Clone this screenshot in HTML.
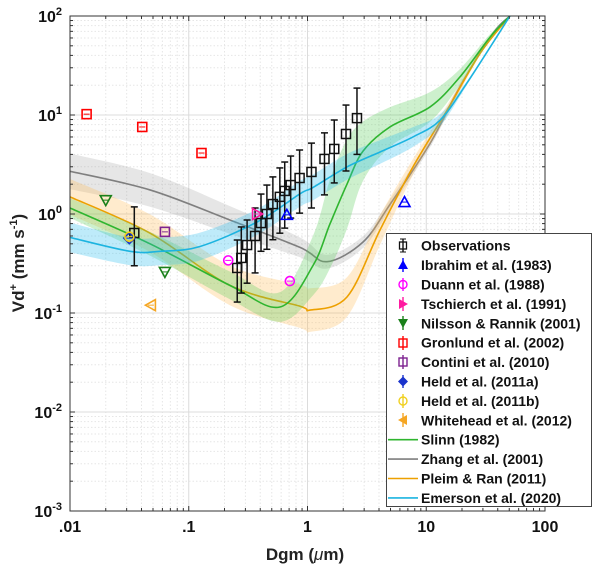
<!DOCTYPE html>
<html><head><meta charset="utf-8"><style>
body{margin:0;background:#fff}
svg{display:block;font-family:"Liberation Sans",Arial,sans-serif}
</style></head><body>
<svg id="chart" width="600" height="570" viewBox="0 0 600 570"></svg>
<script>
// ---- data ----
const slinnX = [0.01,0.0472,0.222,0.586,1.11,1.55,2.15,2.93,4.95,10.8,19.2,34.4,50.7];
const slinnY = [1.15,0.5,0.19,0.115,0.3,0.8,2.0,4.3,7.57,12.1,24.2,61,100];
const slinnBand = [0.1,0.12,0.14,0.15,0.3,0.45,0.45,0.3,0.2,0.15,0.08,0.03,0];
const zhangX = [0.01,0.0472,0.222,0.865,1.46,2.93,4.95,10.8,19.2,36.5,50.7];
const zhangY = [2.7,1.75,0.87,0.46,0.33,0.52,1.25,5.2,19.2,67,100];
const zhangBand = [0.18,0.17,0.14,0.1,0.07,0.06,0.05,0.04,0.03,0.01,0];
const pleimX = [0.01,0.0472,0.222,0.865,1.05,2.15,4.08,7.73,15.0,28.4,50.7];
const pleimY = [1.49,0.64,0.19,0.117,0.107,0.145,0.69,2.99,11.2,42,100];
const pleimBand = [0.18,0.19,0.2,0.22,0.22,0.2,0.15,0.08,0.05,0.02,0];
const emersonX = [0.01,0.032,0.0573,0.1245,0.376,0.865,1.11,2.15,4.08,7.73,13.1,22.0,50.7];
const emersonY = [0.58,0.42,0.42,0.47,0.83,1.6,1.85,2.99,4.23,6.0,8.9,21,100];
const emersonBand = [0.15,0.14,0.14,0.14,0.13,0.13,0.13,0.13,0.12,0.1,0.06,0.02,0];

const obsX = [0.0348,0.256,0.277,0.31,0.362,0.406,0.455,0.511,0.585,0.643,0.722,0.858,1.08,1.39,1.68,2.11,2.61];
const obsY = [0.643,0.285,0.36,0.486,0.6,0.81,1.0,1.26,1.49,1.71,1.96,2.31,2.66,3.6,4.54,6.43,9.3];
const obsHi = [1.18,0.546,0.74,0.87,1.15,1.59,1.96,2.37,2.92,3.35,3.85,4.43,5.2,6.6,8.9,12.6,18.7];
const obsLo = [0.30,0.129,0.159,0.20,0.254,0.42,0.44,0.55,0.64,0.72,0.91,1.02,1.15,1.56,2.06,2.72,4.0];

const ibrahimX=[0.67,6.56], ibrahimY=[0.98,1.32];
const duannX=[0.215,0.71], duannY=[0.34,0.21];
const tschX=[0.376], tschY=[1.0];
const nilssonX=[0.02,0.063], nilssonY=[1.38,0.26];
const gronX=[0.0138,0.0406,0.128], gronY=[10.2,7.57,4.13];
const continiX=[0.063], continiY=[0.66];
const heldaX=[0.0316], heldaY=[0.57];
const heldbX=[0.0316], heldbY=[0.59];
const whiteX=[0.048], whiteY=[0.12];

const xTicks=[0.01,0.1,1,10,100], xTickLabels=[".01",".1","1","10","100"];
const yTicks=[100,10,1,0.1,0.01,0.001], yTickExp=["2","1","0","-1","-2","-3"];

// ---- axes ----
const L=70,R=545,T=16,B=511;
const X=v=>L+(Math.log10(v)+2)*(R-L)/4;
const Y=v=>T+(2-Math.log10(v))*(B-T)/5;
const NS="http://www.w3.org/2000/svg";
const svg=document.getElementById('chart');
function mk(tag,attrs,parent){const e=document.createElementNS(NS,tag);for(const k in attrs)e.setAttribute(k,attrs[k]);(parent||svg).appendChild(e);return e;}

const grid=mk('g',{});


for(let d=-2;d<2;d++)for(let m=1;m<10;m++){const x=X(m*Math.pow(10,d));
 mk('line',{x1:x,x2:x,y1:T,y2:B,stroke:m==1?'#dcdcdc':'#e6e6e6','stroke-dasharray':m==1?'':'1.5,2','stroke-width':1},grid);}
for(let d=-3;d<2;d++)for(let m=1;m<10;m++){const y=Y(m*Math.pow(10,d));
 mk('line',{x1:L,x2:R,y1:y,y2:y,stroke:m==1?'#dcdcdc':'#e6e6e6','stroke-dasharray':m==1?'':'1.5,2','stroke-width':1},grid);}

function smooth(pts){let d='M'+pts[0][0]+','+pts[0][1];
 for(let i=0;i<pts.length-1;i++){const p0=pts[Math.max(i-1,0)],p1=pts[i],p2=pts[i+1],p3=pts[Math.min(i+2,pts.length-1)];
  const c1=[p1[0]+(p2[0]-p0[0])/6,p1[1]+(p2[1]-p0[1])/6],c2=[p2[0]-(p3[0]-p1[0])/6,p2[1]-(p3[1]-p1[1])/6];
  d+=' C'+c1[0]+','+c1[1]+' '+c2[0]+','+c2[1]+' '+p2[0]+','+p2[1];}
 return d;}
function curve(name,xs,ys,band,color,fill){
 const g=mk('g',{});
 
 
 const up=xs.map((x,i)=>[X(x),Y(ys[i]*Math.pow(10,band[i]))]);
 const lo=xs.map((x,i)=>[X(x),Y(ys[i]/Math.pow(10,band[i]))]).reverse();
 const dl=smooth(lo).replace(/^M/,'L');
 const b=mk('path',{d:smooth(up)+' '+dl+' Z',fill:fill,stroke:'none','clip-path':'url(#pc)'},g);
 
 
 const l=mk('path',{d:smooth(xs.map((x,i)=>[X(x),Y(ys[i])])),fill:'none',stroke:color,'stroke-width':1.6,'clip-path':'url(#pc)'},g);
 
 
}
const clip=mk('clipPath',{id:'pc'});mk('rect',{x:L,y:T,width:R-L,height:B-T},clip);
curve('zhang',zhangX,zhangY,zhangBand,'#7f7f7f','rgba(140,140,140,0.22)');
curve('pleim',pleimX,pleimY,pleimBand,'#eda000','rgba(255,190,90,0.3)');
curve('slinn',slinnX,slinnY,slinnBand,'#2fb52f','rgba(90,205,90,0.3)');
curve('emerson',emersonX,emersonY,emersonBand,'#1cb4e0','rgba(40,190,240,0.3)');

function marker(type,x,y,color,fill,parent){
 const s=4.5;let e;
 if(type=='sq')e=mk('rect',{x:x-s,y:y-s,width:2*s,height:2*s,fill:fill,stroke:color,'stroke-width':1.6},parent);
 else if(type=='ci')e=mk('circle',{cx:x,cy:y,r:s,fill:fill,stroke:color,'stroke-width':1.6},parent);
 else{let p;
  if(type=='up')p=[[x,y-s-1],[x+s+1,y+s],[x-s-1,y+s]];
  if(type=='dn')p=[[x,y+s+1],[x+s+1,y-s],[x-s-1,y-s]];
  if(type=='rt')p=[[x+s+1,y],[x-s,y-s-1],[x-s,y+s+1]];
  if(type=='lt')p=[[x-s-1,y],[x+s,y-s-1],[x+s,y+s+1]];
  if(type=='di')p=[[x,y-s-1],[x+s+1,y],[x,y+s+1],[x-s-1,y]];
  e=mk('polygon',{points:p.map(q=>q.join(',')).join(' '),fill:fill,stroke:color,'stroke-width':1.6},parent);}
 mk('line',{x1:x-s+1.5,x2:x+s-1.5,y1:y,y2:y,stroke:color,'stroke-width':1},parent);
 return e;}
function series(name,xs,ys,type,color,fill){
 const g=mk('g',{});
 
 
 xs.forEach((x,i)=>{const m=marker(type,X(x),Y(ys[i]),color,fill,g);
  
  });
}
const og=mk('g',{});


obsX.forEach((x,i)=>{const px=X(x);
 mk('line',{x1:px,x2:px,y1:Y(obsHi[i]),y2:Y(obsLo[i]),stroke:'#111','stroke-width':1.5},og);
 mk('line',{x1:px-3.5,x2:px+3.5,y1:Y(obsHi[i]),y2:Y(obsHi[i]),stroke:'#111','stroke-width':1.5},og);
 mk('line',{x1:px-3.5,x2:px+3.5,y1:Y(obsLo[i]),y2:Y(obsLo[i]),stroke:'#111','stroke-width':1.5},og);
 const r=mk('rect',{x:px-4.5,y:Y(obsY[i])-4.5,width:9,height:9,fill:'none',stroke:'#111','stroke-width':1.5},og);
 
 
});
series('ibrahim',ibrahimX,ibrahimY,'up','#0000ff','none');
series('duann',duannX,duannY,'ci','#ff00ff','none');
series('tschierch',tschX,tschY,'rt','#ff1aa0','none');
series('nilsson',nilssonX,nilssonY,'dn','#1a801a','none');
series('gronlund',gronX,gronY,'sq','#ff0000','none');
series('contini',continiX,continiY,'sq','#7e2290','none');
series('held-a',heldaX,heldaY,'di','#1a33cc','none');
series('held-b',heldbX,heldbY,'ci','#f0d020','none');
series('whitehead',whiteX,whiteY,'lt','#f5a623','none');

const fr=mk('rect',{x:L,y:T,width:R-L,height:B-T,fill:'none',stroke:'#333','stroke-width':1});


for(let d=-2;d<2;d++)for(let m=1;m<10;m++){const x=X(m*Math.pow(10,d)),len=m==1?5:3;
 mk('line',{x1:x,x2:x,y1:B,y2:B-len,stroke:'#333'});mk('line',{x1:x,x2:x,y1:T,y2:T+len,stroke:'#333'});}
for(let d=-3;d<2;d++)for(let m=1;m<10;m++){const y=Y(m*Math.pow(10,d)),len=m==1?5:3;
 mk('line',{x1:L,x2:L+len,y1:y,y2:y,stroke:'#333'});mk('line',{x1:R,x2:R-len,y1:y,y2:y,stroke:'#333'});}
xTicks.forEach((v,i)=>{const t=mk('text',{x:X(v),y:B+21,'text-anchor':'middle','font-size':16,'font-weight':'bold',fill:'#111'});
 t.textContent=xTickLabels[i];
 
 });
yTicks.forEach((v,i)=>{const t=mk('text',{x:L-8,y:Y(v)+6,'text-anchor':'end','font-size':16,'font-weight':'bold',fill:'#111'});
 t.innerHTML='10<tspan dy="-7" font-size="11">'+yTickExp[i]+'</tspan>';
 
 });
</script>
<svg style="position:absolute;left:0;top:0" width="600" height="570">
<text x="305" y="560" text-anchor="middle" font-size="17" font-weight="bold" font-family="Liberation Sans,sans-serif" fill="#222">Dgm (<tspan font-style="italic" font-weight="normal">μ</tspan>m)</text>
<text transform="translate(24,263) rotate(-90)" text-anchor="middle" font-size="17" font-weight="bold" font-family="Liberation Sans,sans-serif" fill="#222">Vd<tspan dy="-7" font-size="11">+</tspan><tspan dy="7"> (mm s</tspan><tspan dy="-7" font-size="11">-1</tspan><tspan dy="7">)</tspan></text>
<g font-family="Liberation Sans,sans-serif" font-size="14" font-weight="bold" fill="#111">
<rect x="386.5" y="233.5" width="205" height="273" fill="#fff" stroke="#444"/>
<g><line x1="403" x2="403" y1="239" y2="252" stroke="#111" stroke-width="1.4"/><line x1="400" x2="406" y1="239" y2="239" stroke="#111"/><line x1="400" x2="406" y1="252" y2="252" stroke="#111"/><rect x="399.5" y="242" width="7" height="7" fill="none" stroke="#111" stroke-width="1.3"/><text x="421" y="250.7">Observations</text></g>
<g><line x1="403" x2="403" y1="258" y2="272" stroke="#00f" stroke-width="1.4"/><polygon points="403,260 408,269 398,269" fill="#00f"/><text x="421" y="270.1">Ibrahim et al. (1983)</text></g>
<g><line x1="403" x2="403" y1="278" y2="291" stroke="#f0f" stroke-width="1.4"/><circle cx="403" cy="284.5" r="4" fill="none" stroke="#f0f" stroke-width="1.4"/><text x="421" y="289.5">Duann et al. (1988)</text></g>
<g><line x1="403" x2="403" y1="297" y2="311" stroke="#ff1aa0" stroke-width="1.4"/><polygon points="408,304 399,299 399,309" fill="#ff1aa0"/><text x="421" y="308.9">Tschierch et al. (1991)</text></g>
<g><line x1="403" x2="403" y1="316" y2="330" stroke="#1a801a" stroke-width="1.4"/><polygon points="403,328 408,319 398,319" fill="#1a801a"/><text x="421" y="328.3">Nilsson &amp; Rannik (2001)</text></g>
<g><line x1="403" x2="403" y1="336" y2="350" stroke="#f00" stroke-width="1.4"/><rect x="399" y="339" width="8" height="8" fill="none" stroke="#f00" stroke-width="1.4"/><text x="421" y="347.7">Gronlund et al. (2002)</text></g>
<g><line x1="403" x2="403" y1="355" y2="369" stroke="#7e2290" stroke-width="1.4"/><rect x="399" y="358" width="8" height="8" fill="none" stroke="#7e2290" stroke-width="1.4"/><text x="421" y="367.1">Contini et al. (2010)</text></g>
<g><line x1="403" x2="403" y1="375" y2="388" stroke="#1a33cc" stroke-width="1.4"/><polygon points="403,376.5 408,381.5 403,386.5 398,381.5" fill="#1a33cc"/><text x="421" y="386.5">Held et al. (2011a)</text></g>
<g><line x1="403" x2="403" y1="394" y2="408" stroke="#f0d020" stroke-width="1.4"/><circle cx="403" cy="401" r="4" fill="none" stroke="#f0d020" stroke-width="1.4"/><text x="421" y="405.9">Held et al. (2011b)</text></g>
<g><line x1="403" x2="403" y1="413" y2="427" stroke="#f5a623" stroke-width="1.4"/><polygon points="398,420 407,415 407,425" fill="#f5a623"/><text x="421" y="425.3">Whitehead et al. (2012)</text></g>
<g><line x1="388" x2="418" y1="439.7" y2="439.7" stroke="#2fb52f" stroke-width="1.6"/><text x="421" y="444.7">Slinn (1982)</text></g>
<g><line x1="388" x2="418" y1="459.1" y2="459.1" stroke="#7f7f7f" stroke-width="1.6"/><text x="421" y="464.1">Zhang et al. (2001)</text></g>
<g><line x1="388" x2="418" y1="478.5" y2="478.5" stroke="#eda000" stroke-width="1.6"/><text x="421" y="483.5">Pleim &amp; Ran (2011)</text></g>
<g><line x1="388" x2="418" y1="497.9" y2="497.9" stroke="#1cb4e0" stroke-width="1.6"/><text x="421" y="502.9">Emerson et al. (2020)</text></g>
</g>
</svg>
</body></html>
